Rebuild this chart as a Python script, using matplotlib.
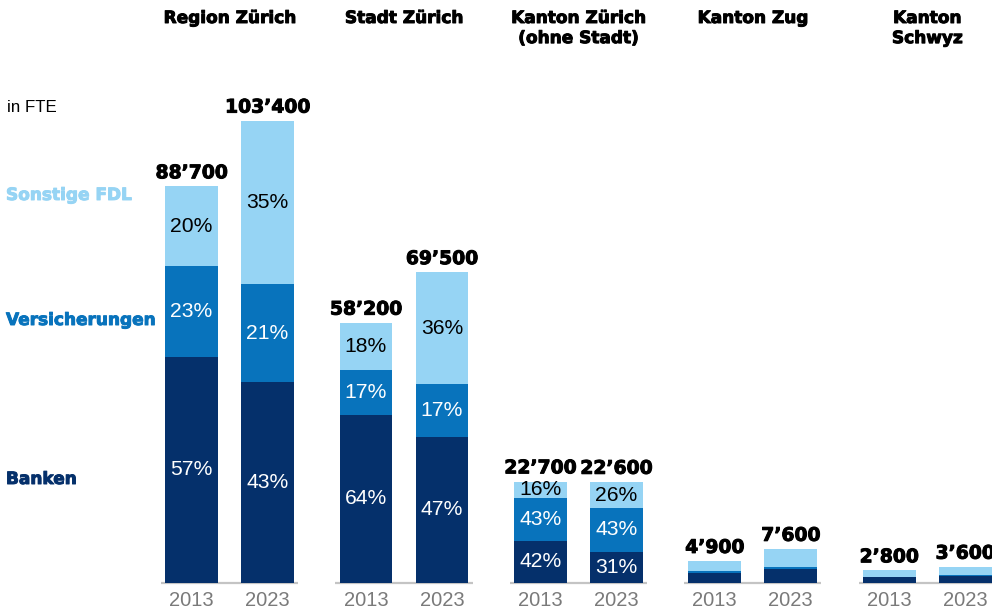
import matplotlib
matplotlib.use("Agg")
import matplotlib.pyplot as plt
import matplotlib.patheffects as pe
import numpy as np

# ---- data ----
groups = ["Region Zürich", "Stadt Zürich", "Kanton Zürich\n(ohne Stadt)", "Kanton Zug", "Kanton\nSchwyz"]
years = ["2013", "2023"]
totals = [[88700, 103400], [58200, 69500], [22700, 22600], [4900, 7600], [2800, 3600]]
total_labels = [["88’700", "103’400"], ["58’200", "69’500"], ["22’700", "22’600"],
                ["4’900", "7’600"], ["2’800", "3’600"]]
banken = [[57, 43], [64, 47], [42, 31], [45, 40], [45, 45]]
versicherungen = [[23, 21], [17, 17], [43, 43], [9, 7], [3, 3]]
sonstige = [[20, 35], [18, 36], [16, 26], [46, 53], [52, 52]]
show_pct = [True, True, True, False, False]
series_names = ["Banken", "Versicherungen", "Sonstige FDL"]

# ---- style ----
C_NAVY = "#05306b"
C_MID = "#0873bc"
C_LIGHT = "#96d4f4"
colors = [C_NAVY, C_MID, C_LIGHT]
txt_colors = ["white", "white", "black"]
BOLD = "DejaVu Sans"
REG = "Liberation Sans"

def heavy(c):
    return [pe.withStroke(linewidth=0.7, foreground=c)]

W, H = 992, 611
fig = plt.figure(figsize=(W / 100, H / 100), dpi=100)
ax = fig.add_axes([0, 0, 1, 1])
ax.axis("off")

G0 = 229.6      # px centre of first group
GS = 174.4      # px per group
BASE = 583.0    # px baseline (from top)
SC = 223.7      # data units per px

def X(px):
    return (px - G0) / GS

def Y(py):
    return (BASE - py) * SC

ax.set_xlim(X(0), X(W))
ax.set_ylim(Y(H), Y(0))

off = 38.0 / GS
bw = 52.7 / GS

for gi, g in enumerate(groups):
    # baseline segment
    ax.hlines(0, gi - 0.393, gi + 0.393, color="#c4c4c4", lw=1.6, zorder=1)
    for yi, yr in enumerate(years):
        x = gi + (-off if yi == 0 else off)
        pcts = [banken[gi][yi], versicherungen[gi][yi], sonstige[gi][yi]]
        tot = totals[gi][yi]
        s = sum(pcts)
        bottom = 0.0
        for si, p in enumerate(pcts):
            h = tot * p / s
            ax.bar(x, h, width=bw, bottom=bottom, color=colors[si], linewidth=0, zorder=2)
            if show_pct[gi]:
                ax.text(x, bottom + h / 2, f"{p}%", ha="center", va="center",
                        fontsize=15.2, color=txt_colors[si], family=REG, zorder=3)
            bottom += h
        ax.annotate(total_labels[gi][yi], (x, tot), xytext=(0, 3), textcoords="offset points",
                    ha="center", va="bottom", fontsize=13.5, fontweight="bold",
                    family=BOLD, color="black", path_effects=heavy("black"))
        ax.text(x, Y(601), yr, ha="center", va="center", fontsize=14.5,
                color="#7a7a7a", family=REG)
    ax.text(gi, Y(9), g, ha="center", va="top", fontsize=12.2, fontweight="bold",
            family=BOLD, color="black", linespacing=1.15, path_effects=heavy("black"))

# left side labels
ax.text(X(7), Y(108), "in FTE", ha="left", va="center", fontsize=12.2, family=REG, color="black")
ax.text(X(6), Y(195), "Sonstige FDL", ha="left", va="center", fontsize=12.2,
        fontweight="bold", family=BOLD, color=C_LIGHT, path_effects=heavy(C_LIGHT))
ax.text(X(6), Y(320), "Versicherungen", ha="left", va="center", fontsize=12.2,
        fontweight="bold", family=BOLD, color=C_MID, path_effects=heavy(C_MID))
ax.text(X(6), Y(479), "Banken", ha="left", va="center", fontsize=12.2,
        fontweight="bold", family=BOLD, color=C_NAVY, path_effects=heavy(C_NAVY))

fig.savefig("out.png", dpi=100)
